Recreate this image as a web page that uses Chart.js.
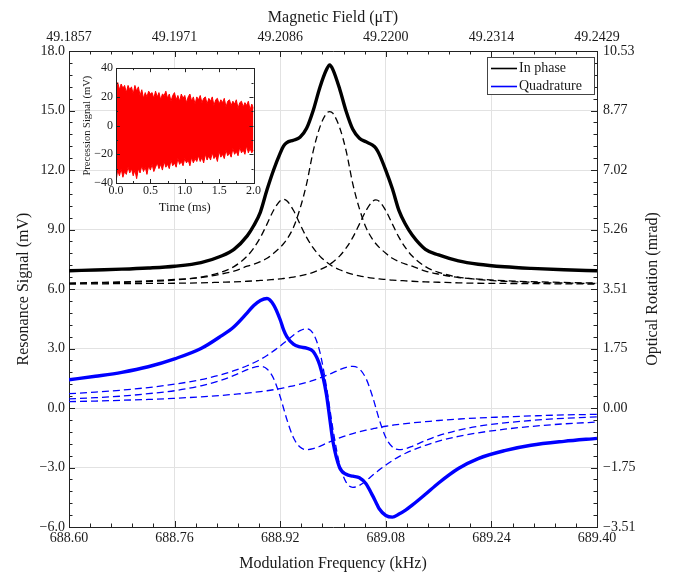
<!DOCTYPE html>
<html><head><meta charset="utf-8">
<script src="https://cdn.jsdelivr.net/npm/chart.js@4.4.0/dist/chart.umd.min.js"></script>
<style>
html,body{margin:0;padding:0;background:#fff;}
#wrap{position:relative;width:679px;height:574px;overflow:hidden;}
#main{position:absolute;left:0;top:0;}
#inset{position:absolute;left:76px;top:58px;}
</style></head><body>
<div id="wrap"><canvas id="main" width="679" height="574"></canvas><canvas id="inset" width="186" height="160"></canvas></div>
<script>
// ---------------- data ----------------
const FREQ = [688.60, 688.64, 688.68, 688.72, 688.76, 688.80, 688.83, 688.85, 688.87, 688.88,
  688.89, 688.90, 688.91, 688.92, 688.925, 688.93, 688.94, 688.95, 688.96, 688.97,
  688.98, 688.99, 688.995, 689.00, 689.01, 689.02, 689.03, 689.04, 689.05, 689.06,
  689.065, 689.07, 689.08, 689.09, 689.10, 689.11, 689.12, 689.14, 689.16, 689.19,
  689.22, 689.26, 689.30, 689.35, 689.40];

const IN_PHASE = [6.92, 6.96, 7.00, 7.06, 7.15, 7.33, 7.65, 8.00, 8.68, 9.20,
  9.88, 11.00, 12.00, 12.85, 13.20, 13.38, 13.50, 13.65, 14.10, 15.00,
  16.15, 17.05, 17.30, 17.05, 16.10, 14.95, 14.05, 13.60, 13.42, 13.25,
  13.10, 12.80, 11.98, 11.05, 9.95, 9.25, 8.72, 8.00, 7.72, 7.42,
  7.25, 7.12, 7.04, 6.97, 6.92];

const IN_PHASE_FIT_LEFT = [6.28, 6.30, 6.33, 6.38, 6.45, 6.60, 6.84, 7.13, 7.66, 8.07,
  8.60, 9.27, 9.97, 10.45, 10.52, 10.45, 9.97, 9.27, 8.60, 8.07,
  7.66, 7.36, 7.24, 7.13, 6.97, 6.84, 6.74, 6.66, 6.60, 6.55,
  6.53, 6.51, 6.48, 6.45, 6.43, 6.41, 6.39, 6.36, 6.34, 6.31,
  6.29, 6.28, 6.27, 6.26, 6.25];

const IN_PHASE_FIT_CENTER = [6.30, 6.33, 6.36, 6.41, 6.48, 6.58, 6.75, 6.90, 7.15, 7.25,
  7.38, 7.55, 7.80, 8.10, 8.28, 8.50, 9.10, 10.05, 11.30, 12.95,
  14.15, 14.85, 14.94, 14.85, 14.15, 12.95, 11.30, 10.05, 9.10, 8.50,
  8.28, 8.10, 7.80, 7.55, 7.38, 7.25, 7.15, 6.90, 6.75, 6.58,
  6.50, 6.42, 6.37, 6.33, 6.30];

const IN_PHASE_FIT_RIGHT = [6.25, 6.26, 6.27, 6.28, 6.29, 6.31, 6.34, 6.36, 6.39, 6.41,
  6.43, 6.45, 6.48, 6.51, 6.53, 6.55, 6.60, 6.66, 6.74, 6.84,
  6.97, 7.13, 7.24, 7.36, 7.66, 8.07, 8.60, 9.27, 9.95, 10.42,
  10.49, 10.42, 9.95, 9.27, 8.60, 8.07, 7.66, 7.13, 6.84, 6.60,
  6.48, 6.39, 6.34, 6.30, 6.28];

const QUADRATURE = [1.42, 1.60, 1.80, 2.08, 2.48, 3.00, 3.62, 4.10, 4.80, 5.17,
  5.42, 5.52, 5.20, 4.45, 3.95, 3.60, 3.22, 3.08, 3.02, 2.85,
  2.15, 0.70, -0.50, -1.70, -3.00, -3.34, -3.44, -3.52, -3.82, -4.42,
  -4.75, -5.08, -5.42, -5.50, -5.35, -5.15, -4.90, -4.35, -3.78, -3.05,
  -2.55, -2.15, -1.88, -1.68, -1.53];

const QUAD_FIT_LEFT = [0.46, 0.52, 0.60, 0.72, 0.87, 1.12, 1.39, 1.64, 1.93, 2.05,
  2.10, 1.97, 1.49, 0.57, 0.00, -0.57, -1.49, -1.97, -2.10, -2.05,
  -1.93, -1.78, -1.71, -1.64, -1.51, -1.39, -1.29, -1.20, -1.12, -1.05,
  -1.01, -0.98, -0.92, -0.87, -0.83, -0.79, -0.75, -0.69, -0.63, -0.56,
  -0.50, -0.45, -0.40, -0.35, -0.32];

const QUAD_FIT_CENTER = [0.72, 0.80, 0.90, 1.03, 1.20, 1.43, 1.67, 1.88, 2.13, 2.28,
  2.45, 2.65, 2.88, 3.12, 3.26, 3.39, 3.67, 3.90, 4.00, 3.75,
  2.84, 1.09, 0.00, -1.09, -2.84, -3.75, -4.00, -3.90, -3.67, -3.39,
  -3.26, -3.12, -2.88, -2.65, -2.45, -2.28, -2.13, -1.88, -1.67, -1.43,
  -1.25, -1.07, -0.93, -0.80, -0.71];

const QUAD_FIT_RIGHT = [0.32, 0.35, 0.39, 0.43, 0.49, 0.56, 0.63, 0.69, 0.75, 0.79,
  0.83, 0.87, 0.92, 0.98, 1.01, 1.05, 1.12, 1.20, 1.29, 1.39,
  1.51, 1.64, 1.71, 1.78, 1.93, 2.05, 2.10, 1.97, 1.49, 0.57,
  0.00, -0.57, -1.49, -1.97, -2.10, -2.05, -1.93, -1.64, -1.39, -1.12,
  -0.92, -0.75, -0.63, -0.52, -0.45];

const FREQ_TICKS = [688.60, 688.76, 688.92, 689.08, 689.24, 689.40];
const FREQ_LABELS = ["688.60", "688.76", "688.92", "689.08", "689.24", "689.40"];
const FIELD_LABELS = ["49.1857", "49.1971", "49.2086", "49.2200", "49.2314", "49.2429"];
const SIGNAL_TICKS = [-6, -3, 0, 3, 6, 9, 12, 15, 18];
const SIGNAL_LABELS = ["\u22126.0", "\u22123.0", "0.0", "3.0", "6.0", "9.0", "12.0", "15.0", "18.0"];
const ROTATION_LABELS = ["\u22123.51", "\u22121.75", "0.00", "1.75", "3.51", "5.26", "7.02", "8.77", "10.53"];

// inset: precession signal envelope (upper / lower edge of the dense oscillation)
const TIME = [0.000,0.025,0.050,0.075,0.100,0.125,0.150,0.175,0.200,0.225,0.250,0.275,0.300,0.325,0.350,0.375,
  0.400,0.425,0.450,0.475,0.500,0.525,0.550,0.575,0.600,0.625,0.650,0.675,0.700,0.725,0.750,0.775,
  0.800,0.825,0.850,0.875,0.900,0.925,0.950,0.975,1.000,1.025,1.050,1.075,1.100,1.125,1.150,1.175,
  1.200,1.225,1.250,1.275,1.300,1.325,1.350,1.375,1.400,1.425,1.450,1.475,1.500,1.525,1.550,1.575,
  1.600,1.625,1.650,1.675,1.700,1.725,1.750,1.775,1.800,1.825,1.850,1.875,1.900,1.925,1.950,1.975,2.000];
const PRECESSION_UPPER = [24,30,25,29,26,28,23,28,25,27,22,28,24,27,21,25,
  19,23,20,24,22,23,19,24,20,23,18,22,21,24,19,22,
  17,21,23,18,21,17,22,19,21,16,20,22,17,20,15,20,
  18,21,16,19,20,15,19,17,20,14,18,19,15,18,16,19,
  13,17,18,14,17,15,18,12,16,17,13,16,14,17,11,15,12];
const PRECESSION_LOWER = [-39,-31,-35,-30,-36,-32,-34,-29,-33,-30,-35,-31,-37,-30,-33,-28,
  -32,-29,-34,-28,-31,-27,-32,-29,-26,-30,-27,-31,-25,-29,-27,-30,
  -24,-28,-26,-29,-23,-27,-25,-28,-23,-26,-24,-28,-22,-26,-23,-25,
  -21,-25,-22,-26,-20,-24,-21,-24,-19,-23,-21,-25,-18,-22,-20,-23,
  -17,-21,-19,-22,-16,-20,-18,-21,-15,-19,-17,-20,-14,-19,-16,-19,-17];
const INSET_X_TICKS = [0, 0.5, 1.0, 1.5, 2.0];
const INSET_X_LABELS = ["0.0", "0.5", "1.0", "1.5", "2.0"];
const INSET_Y_TICKS = [-40, -20, 0, 20, 40];
const INSET_Y_LABELS = ["\u221240", "\u221220", "0", "20", "40"];

// ---------------- helpers ----------------
const FONT = "'Liberation Serif', 'Times New Roman', serif";
const TXT = '#1a1a1a';
const pts = (xs, ys) => xs.map((x, i) => ({x: x, y: ys[i]}));

function inwardTicks(list) {
  return {
    id: 'inwardTicks',
    afterDatasetsDraw(chart) {
      const ctx = chart.ctx, a = chart.chartArea;
      ctx.save();
      ctx.strokeStyle = '#222';
      ctx.lineWidth = 1;
      list.forEach(t => {
        const s = chart.scales[t.scale];
        const items = [];
        t.values.forEach((v, i) => {
          items.push([v, t.major]);
          if (i < t.values.length - 1) {
            for (let k = 1; k < t.sub; k++) items.push([v + (t.values[i + 1] - v) * k / t.sub, t.minor]);
          }
        });
        items.forEach(([v, len]) => {
          const p = Math.round(s.getPixelForValue(v)) + 0.5;
          t.sides.forEach(side => {
            ctx.beginPath();
            if (side === 'bottom') { ctx.moveTo(p, a.bottom); ctx.lineTo(p, a.bottom - len); }
            else if (side === 'top') { ctx.moveTo(p, a.top); ctx.lineTo(p, a.top + len); }
            else if (side === 'left') { ctx.moveTo(a.left, p); ctx.lineTo(a.left + len, p); }
            else { ctx.moveTo(a.right, p); ctx.lineTo(a.right - len, p); }
            ctx.stroke();
          });
        });
      });
      ctx.restore();
    }
  };
}

const legendPlugin = {
  id: 'boxLegend',
  afterDraw(chart) {
    const ctx = chart.ctx;
    const x0 = 487.5, y0 = 57.5, w = 107, h = 37;
    ctx.save();
    ctx.fillStyle = '#fff';
    ctx.fillRect(x0, y0, w, h);
    ctx.strokeStyle = '#444';
    ctx.lineWidth = 1;
    ctx.strokeRect(x0, y0, w, h);
    const entries = [chart.data.datasets[0], chart.data.datasets[4]];
    entries.forEach((ds, i) => {
      const y = 68.5 + i * 18;
      ctx.strokeStyle = ds.borderColor;
      ctx.lineWidth = 1.6;
      ctx.beginPath(); ctx.moveTo(491, y); ctx.lineTo(517, y); ctx.stroke();
      ctx.fillStyle = TXT;
      ctx.font = "14px " + FONT;
      ctx.textBaseline = 'middle';
      ctx.textAlign = 'left';
      ctx.fillText(ds.label, 519, y);
    });
    ctx.restore();
  }
};

// right-hand axis title, reading bottom-to-top like the left one
const rightTitle = {
  id: 'rightTitle',
  afterDraw(chart) {
    const ctx = chart.ctx, a = chart.chartArea;
    ctx.save();
    ctx.translate(653, (a.top + a.bottom) / 2);
    ctx.rotate(-Math.PI / 2);
    ctx.fillStyle = TXT;
    ctx.font = "16px " + FONT;
    ctx.textAlign = 'center';
    ctx.textBaseline = 'middle';
    ctx.fillText('Optical Rotation (mrad)', 0, 0);
    ctx.restore();
  }
};

function fixed(scale, ticks) { scale.ticks = ticks.map(v => ({value: v})); }

// ---------------- main chart ----------------
const solid = (label, ys, color, w) => ({label, data: pts(FREQ, ys), borderColor: color, borderWidth: w,
  pointRadius: 0, cubicInterpolationMode: 'monotone', fill: false});
const dashed = (label, ys, color) => ({label, data: pts(FREQ, ys), borderColor: color, borderWidth: 1.3,
  borderDash: [7, 4], pointRadius: 0, cubicInterpolationMode: 'monotone', fill: false});

new Chart(document.getElementById('main'), {
  type: 'line',
  data: {datasets: [
    solid('In phase', IN_PHASE, '#000000', 3.4),
    dashed('In phase fit 1', IN_PHASE_FIT_LEFT, '#000000'),
    dashed('In phase fit 2', IN_PHASE_FIT_CENTER, '#000000'),
    dashed('In phase fit 3', IN_PHASE_FIT_RIGHT, '#000000'),
    solid('Quadrature', QUADRATURE, '#0000ff', 3.4),
    dashed('Quadrature fit 1', QUAD_FIT_LEFT, '#0000ff'),
    dashed('Quadrature fit 2', QUAD_FIT_CENTER, '#0000ff'),
    dashed('Quadrature fit 3', QUAD_FIT_RIGHT, '#0000ff')
  ]},
  options: {
    responsive: false, animation: false, devicePixelRatio: 1,
    layout: {padding: 0},
    plugins: {legend: {display: false}, tooltip: {enabled: false}},
    scales: {
      x: {type: 'linear', position: 'bottom', min: 688.6, max: 689.4,
        afterBuildTicks: s => fixed(s, FREQ_TICKS),
        afterFit: s => { s.height = 47; },
        grid: {color: '#e2e2e2', lineWidth: 1, drawTicks: false},
        border: {display: true, color: '#222', width: 1},
        ticks: {padding: 3, maxRotation: 0, minRotation: 0, autoSkip: false, color: TXT,
          font: {family: FONT, size: 14}, callback: (v, i) => FREQ_LABELS[i]},
        title: {display: true, text: 'Modulation Frequency (kHz)', color: TXT,
          font: {family: FONT, size: 16}, padding: {top: 0, bottom: 1}}},
      x2: {type: 'linear', position: 'top', min: 688.6, max: 689.4,
        afterBuildTicks: s => fixed(s, FREQ_TICKS),
        afterFit: s => { s.height = 51; },
        grid: {display: false, drawTicks: false},
        border: {display: true, color: '#222', width: 1},
        ticks: {padding: 5, maxRotation: 0, minRotation: 0, autoSkip: false, color: TXT,
          font: {family: FONT, size: 14}, callback: (v, i) => FIELD_LABELS[i]},
        title: {display: true, text: 'Magnetic Field (\u03bcT)', color: TXT,
          font: {family: FONT, size: 16}, padding: {top: 8, bottom: 0}}},
      y: {type: 'linear', position: 'left', min: -6, max: 18,
        afterBuildTicks: s => fixed(s, SIGNAL_TICKS),
        afterFit: s => { s.width = 69; },
        grid: {color: '#e2e2e2', lineWidth: 1, drawTicks: false},
        border: {display: true, color: '#222', width: 1},
        ticks: {padding: 4, autoSkip: false, color: TXT, font: {family: FONT, size: 14},
          callback: (v, i) => SIGNAL_LABELS[i]},
        title: {display: true, text: 'Resonance Signal (mV)', color: TXT,
          font: {family: FONT, size: 16}, padding: {top: 14, bottom: 0}}},
      y2: {type: 'linear', position: 'right', min: -6, max: 18,
        afterBuildTicks: s => fixed(s, SIGNAL_TICKS),
        afterFit: s => { s.width = 82; },
        grid: {display: false, drawTicks: false},
        border: {display: true, color: '#222', width: 1},
        ticks: {padding: 6, autoSkip: false, color: TXT, font: {family: FONT, size: 14},
          callback: (v, i) => ROTATION_LABELS[i]},
        title: {display: false}}
    }
  },
  plugins: [inwardTicks([
    {scale: 'x', values: FREQ_TICKS, sub: 5, major: 6, minor: 3.5, sides: ['bottom']},
    {scale: 'x2', values: FREQ_TICKS, sub: 5, major: 6, minor: 3.5, sides: ['top']},
    {scale: 'y', values: SIGNAL_TICKS, sub: 5, major: 6, minor: 3.5, sides: ['left']},
    {scale: 'y2', values: SIGNAL_TICKS, sub: 5, major: 6, minor: 3.5, sides: ['right']}
  ]), legendPlugin, rightTitle]
});

// ---------------- inset chart ----------------
const insetBg = {
  id: 'insetBg',
  beforeDraw(chart) {
    const a = chart.chartArea, ctx = chart.ctx;
    ctx.save(); ctx.fillStyle = '#fff';
    ctx.fillRect(a.left, a.top, a.right - a.left, a.bottom - a.top);
    ctx.restore();
  }
};

new Chart(document.getElementById('inset'), {
  type: 'line',
  data: {datasets: [
    {label: 'upper', data: pts(TIME, PRECESSION_UPPER), borderColor: '#ff0000', backgroundColor: '#ff0000',
      borderWidth: 1, pointRadius: 0, tension: 0, fill: '+1'},
    {label: 'lower', data: pts(TIME, PRECESSION_LOWER), borderColor: '#ff0000',
      borderWidth: 1, pointRadius: 0, tension: 0, fill: false}
  ]},
  options: {
    responsive: false, animation: false, devicePixelRatio: 1,
    layout: {padding: {top: 6, right: 8, left: 0, bottom: 0}},
    plugins: {legend: {display: false}, tooltip: {enabled: false}},
    scales: {
      x: {type: 'linear', min: 0, max: 2,
        afterBuildTicks: s => fixed(s, INSET_X_TICKS),
        afterFit: s => { s.height = 35; },
        grid: {display: false, drawTicks: false},
        border: {display: true, color: '#222', width: 1},
        ticks: {padding: 1, maxRotation: 0, autoSkip: false, color: TXT, font: {family: FONT, size: 12},
          callback: (v, i) => INSET_X_LABELS[i]},
        title: {display: true, text: 'Time (ms)', color: TXT, font: {family: FONT, size: 12.5},
          padding: {top: 0, bottom: 3}}},
      y: {type: 'linear', min: -40, max: 40,
        afterBuildTicks: s => fixed(s, INSET_Y_TICKS),
        afterFit: s => { s.width = 40; },
        grid: {display: false, drawTicks: false},
        border: {display: true, color: '#222', width: 1},
        ticks: {padding: 3, autoSkip: false, color: TXT, font: {family: FONT, size: 12},
          callback: (v, i) => INSET_Y_LABELS[i]},
        title: {display: true, text: 'Precession Signal (mV)', color: TXT, font: {family: FONT, size: 10.5},
          padding: {top: 5, bottom: 0}}}
    }
  },
  plugins: [insetBg, inwardTicks([
    {scale: 'x', values: INSET_X_TICKS, sub: 2, major: 4, minor: 2, sides: ['bottom', 'top']},
    {scale: 'y', values: INSET_Y_TICKS, sub: 2, major: 4, minor: 2, sides: ['left', 'right']}
  ]), {
    id: 'insetFrame',
    afterDraw(chart) {
      const a = chart.chartArea, ctx = chart.ctx;
      ctx.save(); ctx.strokeStyle = '#222'; ctx.lineWidth = 1;
      ctx.strokeRect(Math.round(a.left) + 0.5, Math.round(a.top) + 0.5, Math.round(a.right - a.left), Math.round(a.bottom - a.top));
      ctx.restore();
    }
  }]
});
</script></body></html>
